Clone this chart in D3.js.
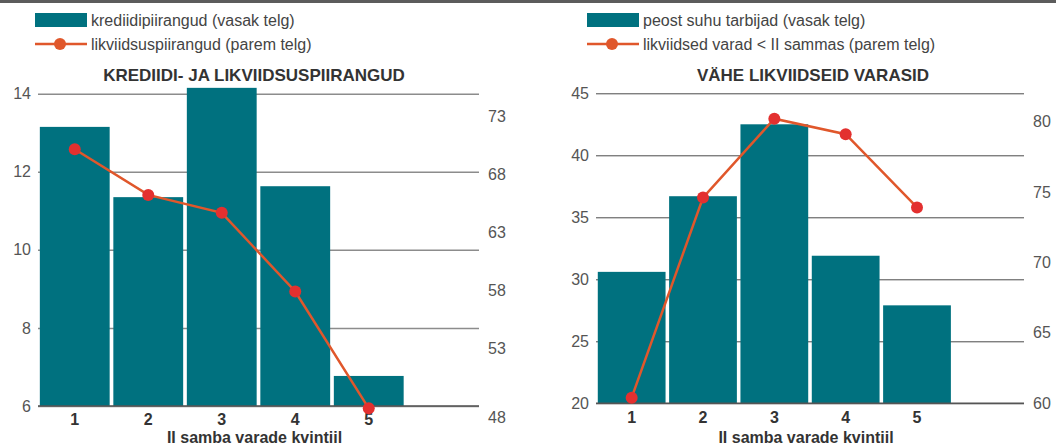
<!DOCTYPE html>
<html>
<head>
<meta charset="utf-8">
<script src="https://cdn.jsdelivr.net/npm/d3@7"></script>
<style>
  body { margin: 0; background: #fff; }
  svg { display: block; font-family: "Liberation Sans", Arial, Helvetica, sans-serif; }
</style>
</head>
<body>
<div class="chart"></div>
<script>
// quintiles of II pillar assets (6th slot is an empty band)
var quintiles = ["1", "2", "3", "4", "5"];
var bandSlots = ["1", "2", "3", "4", "5", "6"];

// left panel
var creditConstraints = [13.15, 11.35, 14.15, 11.63, 6.77];
var liquidityConstraints = [70.2, 66.25, 64.7, 57.9, 47.8];
var leftTicksA = [6, 8, 10, 12, 14];
var rightTicksA = [48, 53, 58, 63, 68, 73];

// right panel
var handToMouth = [30.6, 36.7, 42.5, 31.9, 27.9];
var liquidBelowPillar = [60.4, 74.6, 80.2, 79.1, 73.9];
var leftTicksB = [20, 25, 30, 35, 40, 45];
var rightTicksB = [60, 65, 70, 75, 80];

var barColor = "#00717f";
var lineColor = "#e0572b";
var dotColor = "#e3302f";

var svg = d3.select(".chart")
  .append("svg")
  .attr("width", 1056)
  .attr("height", 446);

// dark strip on top
svg.append("rect")
  .attr("x", 0).attr("y", 0)
  .attr("width", 1056).attr("height", 3)
  .attr("fill", "#5c5c5c");

drawPanel({
  x0: 38, x1: 479, yTop: 93.7, yBottom: 406,
  leftDomain: [6, 14], rightDomain: [48, 75],
  leftTicks: leftTicksA, rightTicks: rightTicksA,
  bars: creditConstraints, line: liquidityConstraints,
  gridColor: "#8c8c8c", gridWidth: 1.5,
  title: "KREDIIDI- JA LIKVIIDSUSPIIRANGUD", titleX: 254,
  legendX: 35,
  barLabel: "krediidipiirangud (vasak telg)",
  lineLabel: "likviidsuspiirangud (parem telg)",
  lastLabelNudge: 11
});

drawPanel({
  x0: 596, x1: 1024, yTop: 93.3, yBottom: 403.3,
  leftDomain: [20, 45], rightDomain: [60, 82],
  leftTicks: leftTicksB, rightTicks: rightTicksB,
  bars: handToMouth, line: liquidBelowPillar,
  gridColor: "#4a4a4a", gridWidth: 1,
  title: "VÄHE LIKVIIDSEID VARASID", titleX: 813,
  legendX: 587,
  barLabel: "peost suhu tarbijad (vasak telg)",
  lineLabel: "likviidsed varad < II sammas (parem telg)",
  lastLabelNudge: 0
});

function drawPanel(p) {
  var g = svg.append("g");

  var x = d3.scaleBand()
    .domain(bandSlots)
    .range([p.x0, p.x1])
    .paddingInner(0.05)
    .paddingOuter(0.025);

  var yLeft = d3.scaleLinear().domain(p.leftDomain).range([p.yBottom, p.yTop]);
  var yRight = d3.scaleLinear().domain(p.rightDomain).range([p.yBottom, p.yTop]);

  // gridlines + left labels
  var leftAxis = g.append("g")
    .attr("transform", `translate(${p.x0},0)`)
    .call(d3.axisLeft(yLeft).tickValues(p.leftTicks).tickSize(-(p.x1 - p.x0)).tickPadding(7));
  leftAxis.select(".domain").remove();
  leftAxis.selectAll("line")
    .attr("stroke", p.gridColor)
    .attr("stroke-width", p.gridWidth);
  leftAxis.selectAll("text")
    .attr("fill", "#555")
    .style("font-size", "16px");

  // bars
  g.selectAll("rect.bar")
    .data(p.bars)
    .enter()
    .append("rect")
    .attr("class", "bar")
    .attr("x", (d, i) => x(quintiles[i]))
    .attr("width", x.bandwidth())
    .attr("y", d => yLeft(d))
    .attr("height", d => p.yBottom - yLeft(d))
    .attr("fill", barColor);

  // baseline
  g.append("line")
    .attr("x1", p.x0).attr("x2", p.x1)
    .attr("y1", p.yBottom).attr("y2", p.yBottom)
    .attr("stroke", "#555")
    .attr("stroke-width", 1.5);

  // right axis labels
  var rightAxis = g.append("g")
    .attr("transform", `translate(${p.x1},0)`)
    .call(d3.axisRight(yRight).tickValues(p.rightTicks).tickSize(0).tickPadding(9));
  rightAxis.select(".domain").remove();
  rightAxis.selectAll("text")
    .attr("fill", "#555")
    .style("font-size", "16px")
    .attr("transform", d => d === p.rightTicks[0] ? `translate(0,${p.lastLabelNudge})` : null);

  // x axis labels
  var xAxis = g.append("g")
    .attr("transform", `translate(0,${p.yBottom})`)
    .call(d3.axisBottom(x).tickValues(quintiles).tickSize(0).tickPadding(8));
  xAxis.select(".domain").remove();
  xAxis.selectAll("text")
    .attr("fill", "#333")
    .style("font-size", "16px")
    .style("font-weight", "bold");

  g.append("text")
    .attr("x", (p.x0 + p.x1) / 2 - 4)
    .attr("y", 443)
    .attr("text-anchor", "middle")
    .style("font-size", "16px")
    .style("font-weight", "bold")
    .attr("fill", "#333")
    .text("II samba varade kvintiil");

  // line + dots
  var line = d3.line()
    .x((d, i) => x(quintiles[i]) + x.bandwidth() / 2)
    .y(d => yRight(d));

  g.append("path")
    .attr("d", line(p.line))
    .attr("fill", "none")
    .attr("stroke", lineColor)
    .attr("stroke-width", 2.5);

  g.selectAll("circle.dot")
    .data(p.line)
    .enter()
    .append("circle")
    .attr("class", "dot")
    .attr("cx", (d, i) => x(quintiles[i]) + x.bandwidth() / 2)
    .attr("cy", d => yRight(d))
    .attr("r", 6)
    .attr("fill", dotColor);

  // title
  g.append("text")
    .attr("x", p.titleX)
    .attr("y", 81)
    .attr("text-anchor", "middle")
    .style("font-size", "17px")
    .style("font-weight", "bold")
    .attr("fill", "#333")
    .text(p.title);

  // legend
  var leg = g.append("g").attr("transform", `translate(${p.legendX},0)`);
  leg.append("rect")
    .attr("x", 0).attr("y", 13)
    .attr("width", 52).attr("height", 14)
    .attr("fill", barColor);
  leg.append("text")
    .attr("x", 56).attr("y", 20)
    .attr("dy", "0.35em")
    .style("font-size", "16px")
    .attr("fill", "#444")
    .text(p.barLabel);
  leg.append("line")
    .attr("x1", 0).attr("x2", 52)
    .attr("y1", 44).attr("y2", 44)
    .attr("stroke", lineColor)
    .attr("stroke-width", 2.5);
  leg.append("circle")
    .attr("cx", 25).attr("cy", 44)
    .attr("r", 6)
    .attr("fill", lineColor);
  leg.append("text")
    .attr("x", 56).attr("y", 44)
    .attr("dy", "0.35em")
    .style("font-size", "16px")
    .attr("fill", "#444")
    .text(p.lineLabel);
}
</script>
</body>
</html>
